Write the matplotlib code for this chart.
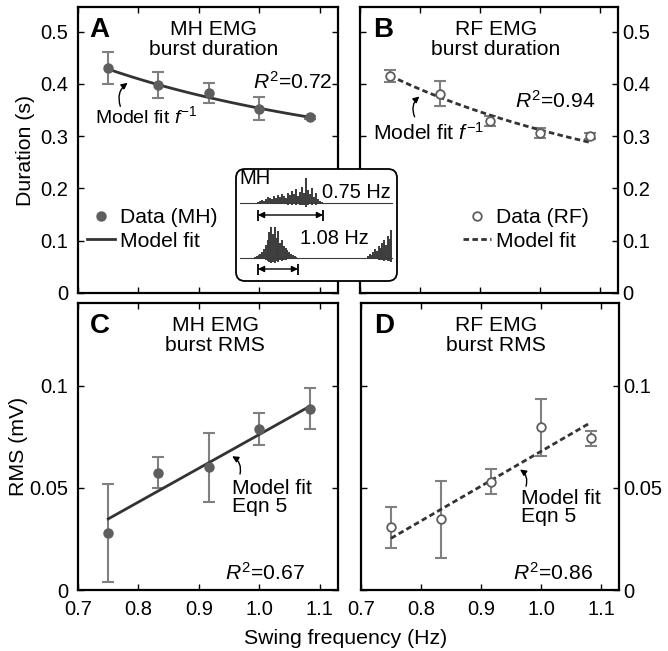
import numpy as np
import matplotlib
matplotlib.use('Agg')
import matplotlib.pyplot as plt
from matplotlib.patches import FancyBboxPatch

plt.rcParams['font.family'] = ['Liberation Sans', 'DejaVu Sans']
plt.rcParams['mathtext.fontset'] = 'custom'
plt.rcParams['mathtext.rm'] = 'Liberation Sans'
plt.rcParams['mathtext.it'] = 'Liberation Sans:italic'
plt.rcParams['mathtext.bf'] = 'Liberation Sans:bold'

# ---------------- data ----------------
freq = [0.75, 0.833, 0.917, 1.0, 1.083]
mh_dur = [0.430, 0.398, 0.383, 0.352, 0.336]
mh_dur_err = [0.030, 0.025, 0.019, 0.022, 0.003]
rf_dur = [0.415, 0.381, 0.329, 0.306, 0.300]
rf_dur_err = [0.012, 0.024, 0.009, 0.009, 0.006]
mh_rms = [0.0278, 0.0575, 0.0600, 0.0789, 0.0887]
mh_rms_err = [0.024, 0.0077, 0.017, 0.0078, 0.010]
rf_rms = [0.0307, 0.0346, 0.0531, 0.0797, 0.0742]
rf_rms_err = [0.010, 0.019, 0.006, 0.014, 0.0037]

# model fits: duration = a + b / f ; RMS fit given at end frequencies
mh_dur_fit = (0.129, 0.2244)
rf_dur_fit = (0.001, 0.311)
rms_fit_f = [0.75, 1.083]
mh_rms_fit = [0.0348, 0.0899]
rf_rms_fit = [0.0253, 0.0820]

r2 = {'A': 0.72, 'B': 0.94, 'C': 0.67, 'D': 0.86}

dur_ticks = [0, 0.1, 0.2, 0.3, 0.4, 0.5]
dur_ticklabels = ['0', '0.1', '0.2', '0.3', '0.4', '0.5']
rms_ticks = [0, 0.05, 0.1]
rms_ticklabels = ['0', '0.05', '0.1']
f_ticks = [0.7, 0.8, 0.9, 1.0, 1.1]
f_ticklabels = ['0.7', '0.8', '0.9', '1.0', '1.1']

# EMG inset spike amplitudes
emg_075 = [1, 2, 3, 2, 4, 6, 5, 4, 7, 5, 8, 6, 9, 7, 5, 10, 8, 12, 9, 14,
           7, 11, 16, 10, 25, 13, 9, 15, 6, 10, 4, 2, 1]
emg_108a = [1, 2, 3, 4, 6, 9, 13, 18, 26, 31, 24, 31, 20, 27, 15, 18, 12,
            10, 8, 6, 4, 3, 2, 1]
emg_108b = [2, 4, 3, 6, 9, 7, 12, 10, 15, 18, 13, 22, 19, 28]

# ---------------- styles ----------------
DOT = '#5e5e5e'
ERR = '#808080'
FIT = '#333333'
TICK_FS = 14.5
LAB_FS = 15.3
TXT_FS = 15.2

fig = plt.figure(figsize=(6.68, 6.51), dpi=100)
W, H = 668, 651

def add_ax(l, t, r, b):
    return fig.add_axes([l / W, 1 - b / H, (r - l) / W, (b - t) / H])

axA = add_ax(78, 7, 338, 293)
axB = add_ax(360, 7, 618, 293)
axC = add_ax(78, 303, 338, 590)
axD = add_ax(361, 303, 619, 590)

for ax in (axA, axB, axC, axD):
    for s in ax.spines.values():
        s.set_linewidth(1.6)
    ax.tick_params(direction='in', length=4, width=1, labelsize=TICK_FS,
                   top=True, right=True, bottom=True, left=True)
    ax.set_xlim(0.7, 1.13)
    ax.set_xticks(f_ticks)

for ax in (axA, axB):
    ax.set_ylim(0, 0.547)
    ax.set_yticks(dur_ticks)
    ax.set_yticklabels(dur_ticklabels)
    ax.set_xticklabels([])
for ax in (axC, axD):
    ax.set_ylim(0, 0.1405)
    ax.set_yticks(rms_ticks)
    ax.set_yticklabels(rms_ticklabels)
    ax.set_xticklabels(f_ticklabels)
    ax.tick_params(axis='x', pad=7)
for ax in (axA, axC):
    ax.tick_params(axis='y', pad=7)
for ax in (axB, axD):
    ax.tick_params(axis='y', labelleft=False, labelright=True, pad=3)

f_fit = np.linspace(freq[0], freq[-1], 60)

# ---- A ----
axA.errorbar(freq, mh_dur, yerr=mh_dur_err, fmt='none', ecolor=ERR,
             elinewidth=1.5, capsize=4, capthick=1.5, zorder=2)
axA.plot(f_fit, mh_dur_fit[0] + mh_dur_fit[1] / f_fit, color=FIT, lw=2,
         zorder=3, label='Model fit')
axA.plot(freq, mh_dur, 'o', color=DOT, ms=6.5, zorder=4, label='Data (MH)')
# ---- B ----
axB.errorbar(freq, rf_dur, yerr=rf_dur_err, fmt='none', ecolor=ERR,
             elinewidth=1.5, capsize=4, capthick=1.5, zorder=2)
axB.plot(f_fit, rf_dur_fit[0] + rf_dur_fit[1] / f_fit, color=FIT, lw=2,
         ls=(0, (2, 1.2)), zorder=3, label='Model fit')
axB.plot(freq, rf_dur, 'o', mfc='white', mec=DOT, mew=1.3, ms=6.2, zorder=4,
         label='Data (RF)')
# ---- C ----
axC.errorbar(freq, mh_rms, yerr=mh_rms_err, fmt='none', ecolor=ERR,
             elinewidth=1.5, capsize=4, capthick=1.5, zorder=2)
axC.plot(rms_fit_f, mh_rms_fit, color=FIT, lw=2, zorder=3)
axC.plot(freq, mh_rms, 'o', color=DOT, ms=6.5, zorder=4)
# ---- D ----
axD.errorbar(freq, rf_rms, yerr=rf_rms_err, fmt='none', ecolor=ERR,
             elinewidth=1.5, capsize=4, capthick=1.5, zorder=2)
axD.plot(rms_fit_f, rf_rms_fit, color=FIT, lw=2, ls=(0, (2, 1.2)), zorder=3)
axD.plot(freq, rf_rms, 'o', mfc='white', mec=DOT, mew=1.3, ms=6.2, zorder=4)

# legends
for ax, anchor in ((axA, (0.035, 0.296)), (axB, (0.40, 0.296))):
    h, l = ax.get_legend_handles_labels()
    ax.legend(h[::-1], l[::-1], loc='upper left', bbox_to_anchor=anchor,
              frameon=False, fontsize=TXT_FS, borderpad=0, borderaxespad=0,
              handlelength=1.3, handletextpad=0.25, labelspacing=0.2)

# panel letters and titles
for ax, letter, title, xl, xt in (
        (axA, 'A', 'MH EMG\nburst duration', 0.045, 0.52),
        (axB, 'B', 'RF EMG\nburst duration', 0.05, 0.527),
        (axC, 'C', 'MH EMG\nburst RMS', 0.045, 0.527),
        (axD, 'D', 'RF EMG\nburst RMS', 0.05, 0.523)):
    ax.text(xl, 0.965, letter, transform=ax.transAxes, fontsize=20,
            fontweight='bold', va='top', ha='left')
    ax.text(xt, 0.955, title, transform=ax.transAxes, fontsize=TXT_FS,
            va='top', ha='center', linespacing=1.1)

# R^2 labels
axA.text(1.121, 0.403, r'$R^2$=%.2f' % r2['A'], fontsize=TXT_FS, ha='right', va='center')
axB.text(1.092, 0.367, r'$R^2$=%.2f' % r2['B'], fontsize=TXT_FS, ha='right', va='center')
axC.text(1.075, 0.0085, r'$R^2$=%.2f' % r2['C'], fontsize=TXT_FS, ha='right', va='center')
axD.text(1.087, 0.0085, r'$R^2$=%.2f' % r2['D'], fontsize=TXT_FS, ha='right', va='center')

# model fit annotations
arrow_kw = dict(arrowstyle='-|>', color='k', lw=1, mutation_scale=9,
                shrinkA=0, shrinkB=0)
axA.text(0.728, 0.338, r'Model fit $f^{-1}$', fontsize=14.0, ha='left', va='center')
axA.annotate('', xy=(0.782, 0.402), xytext=(0.770, 0.357),
             arrowprops=dict(connectionstyle='arc3,rad=-0.35', **arrow_kw))
axB.text(0.7215, 0.307, r'Model fit $f^{-1}$', fontsize=TXT_FS, ha='left', va='center')
axB.annotate('', xy=(0.799, 0.376), xytext=(0.791, 0.337),
             arrowprops=dict(connectionstyle='arc3,rad=-0.35', **arrow_kw))
axC.text(0.955, 0.0545, 'Model fit\nEqn 5', fontsize=TXT_FS, ha='left', va='top',
         linespacing=0.95)
axC.annotate('', xy=(0.955, 0.0655), xytext=(0.968, 0.0568),
             arrowprops=dict(connectionstyle='arc3,rad=0.35', **arrow_kw))
axD.text(0.966, 0.0495, 'Model fit\nEqn 5', fontsize=TXT_FS, ha='left', va='top',
         linespacing=0.95)
axD.annotate('', xy=(0.965, 0.0590), xytext=(0.975, 0.0508),
             arrowprops=dict(connectionstyle='arc3,rad=0.35', **arrow_kw))

# axis labels
axA.set_ylabel('Duration (s)', fontsize=LAB_FS, labelpad=3.8)
axC.set_ylabel('RMS (mV)', fontsize=LAB_FS, labelpad=0.8)
fig.text(346 / W, 1 - 638 / H, 'Swing frequency (Hz)', fontsize=LAB_FS,
         ha='center', va='center')

# ---------------- inset ----------------
axI = fig.add_axes([235 / W, 1 - 282 / H, 163 / W, 114 / H], zorder=10)
axI.set_xlim(0, 163)
axI.set_ylim(114, 0)
axI.axis('off')
axI.add_patch(FancyBboxPatch((1, 1), 161, 112, boxstyle='round,pad=0,rounding_size=9',
                             fc='white', ec='k', lw=1.3, clip_on=False))
axI.text(4, 1.5, 'MH', fontsize=14.5, va='top', ha='left')
EMG = '#3a3a3a'
# trace 1
base1 = 35
axI.plot([5, 157], [base1, base1], color=EMG, lw=0.8)
x1 = 23 + 2 * np.arange(len(emg_075))
axI.vlines(x1, base1 + 0.15 * np.array(emg_075), base1 - np.array(emg_075),
           color=EMG, lw=1.4)
axI.text(87, 24, '0.75 Hz', fontsize=14.4, va='center', ha='left')
axI.annotate('', xy=(23, 47), xytext=(88, 47),
             arrowprops=dict(arrowstyle='<|-|>', color='k', lw=1, mutation_scale=9,
                             shrinkA=0, shrinkB=0))
axI.vlines([23, 88], 42, 53, color='k', lw=1.3)
# trace 2
base2 = 90
axI.plot([5, 157], [base2, base2], color=EMG, lw=0.8)
x2 = 20 + 1.8 * np.arange(len(emg_108a))
axI.vlines(x2, base2 + 0.15 * np.array(emg_108a), base2 - np.array(emg_108a),
           color=EMG, lw=1.4)
x3 = 133 + 1.8 * np.arange(len(emg_108b))
axI.vlines(x3, base2 + 0.15 * np.array(emg_108b), base2 - np.array(emg_108b),
           color=EMG, lw=1.4)
axI.text(65, 71, '1.08 Hz', fontsize=14.4, va='center', ha='left')
axI.annotate('', xy=(23, 101), xytext=(63, 101),
             arrowprops=dict(arrowstyle='<|-|>', color='k', lw=1, mutation_scale=9,
                             shrinkA=0, shrinkB=0))
axI.vlines([23, 63], 96, 107, color='k', lw=1.3)

fig.savefig('out.png', dpi=100)
